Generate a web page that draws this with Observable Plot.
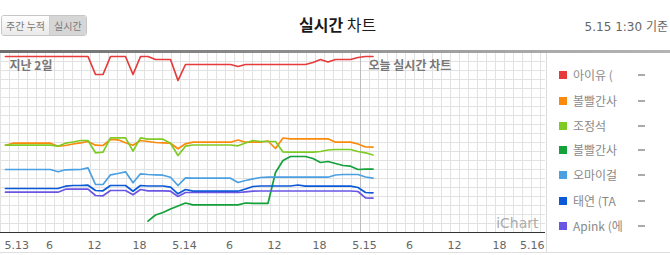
<!DOCTYPE html>
<html><head><meta charset="utf-8">
<script src="https://cdn.jsdelivr.net/npm/d3@7"></script>
<script src="https://cdn.jsdelivr.net/npm/@observablehq/plot@0.6"></script>
<style>
body{margin:0;width:670px;height:255px;overflow:hidden;background:#fff;position:relative;font-family:"DejaVu Sans","Noto Sans CJK KR",sans-serif}
#tabs{position:absolute;left:1px;top:15px;height:19px;border:1px solid #c6c6c6;border-radius:3px;overflow:hidden;display:flex;font-family:"Noto Sans CJK KR",sans-serif;font-size:10px;line-height:19px;color:#7a7a7a;white-space:nowrap}
#tabs div{padding:0 4px}
#tabs .t1{width:39px;background:linear-gradient(#fefefe,#e9e9e9);border-right:1px solid #cfcfcf}
#tabs .t2{width:28px;background:#d6d6d6}
#title{position:absolute;left:299px;top:13px;font-family:"Noto Sans CJK KR",sans-serif;font-size:16px;line-height:22px;color:#1a1a1a;white-space:nowrap}
#title b{font-weight:700}
#stamp{position:absolute;right:2px;top:19px;font-size:12px;line-height:16px;color:#666;white-space:nowrap}
#bar{position:absolute;left:0;top:50px;width:670px;height:3px;background:linear-gradient(to right,#6e6e6e,#a9a9a9 80%,#b4b4b4);z-index:3}
#chart{position:absolute;left:0;top:50px}
#legend{position:absolute;left:546px;top:53px;width:124px;height:199px;border-left:1px solid #dcdcdc;background:#fff}
.item{position:absolute;left:12px;height:16px;line-height:16px;font-family:"Noto Sans CJK KR",sans-serif;font-size:12px;color:#8a8a8a;white-space:nowrap}
.sw{position:absolute;left:0;top:4px;width:8px;height:8px}
.lb{position:absolute;left:14px;top:0}
.ds{position:absolute;left:79px;top:7px;width:7px;height:2px;background:#aaa}
#bottomline{position:absolute;left:0;top:252px;width:670px;height:1px;background:#dedede}
</style></head><body>
<div id="tabs"><div class="t1">주간 누적</div><div class="t2">실시간</div></div>
<div id="title"><b>실시간</b> 차트</div>
<div id="stamp">5.15 1:30 기준</div>
<div id="bar"></div>
<div id="chart"></div>
<div id="legend"></div>
<div id="bottomline"></div>
<script>
// hourly readings starting 5.13 00:40 (hours since 5.13 00:00)
const hours = d3.range(50).map(k => k + 40 / 60);

const seriesNames = ["아이유 (", "볼빨간사", "조정석", "볼빨간사", "오마이걸", "태연 (TA", "Apink (에"];
const seriesIds = ["iu", "bol1", "jo", "bol2", "omg", "ty", "apink"];
const seriesColors = ["#e63b3b", "#fb8a0c", "#7dcb24", "#13a13a", "#4aa0e2", "#0b58d8", "#6b55e3"];

// chart position values (0 = top of chart, larger = lower)
const iu = [4,4,4,4,4,4,4,4,4,4,4,4, 22,22, 4,4,4, 22, 4,4, 7,7,7, 28, 12,12,12,12,12,12,12, 14, 12,12,12,12,12,12,12,12,12, 10, 7, 9.5, 7,7,7, 5, 4,4];
const bol1 = [92.7, 90.7,90.7,90.7,90.7,90.7,90.7, 93.7, 93, 91.5, 90.3, 89, 92.7, 93, 87, 87.3, 90.3, 92.7, 88, 89, 90, 90.3, 90.7, 96.3, 91.3, 89.7,89.7,89.7,89.7,89.7,89.7, 87.5, 89.7,89.7,89.7, 88.5, 96, 85.5, 86.3,86.3,86.3,86.3,86.3,86.3, 89.7,89.7,89.7, 91.5, 94.5, 94.7];
const jo = [92.7,92.7,92.7,92.7,92.7,92.7,92.7, 93.7, 90.7, 89.5, 88, 88, 100.3, 99.7, 85.3,85.3,85.3, 98.7, 85.3, 86.7,86.7,86.7, 90.7, 103, 93.7, 92.5,92.5,92.5,92.5,92.5,92.5, 93.3, 90.5, 88, 89,89,89, 99.5, 99.7,99.7,99.7,99.7, 99, 97.5, 97,97,97, 99, 100.3, 102.5];
const bol2 = [null,null,null,null,null,null,null,null,null,null,null,null,null,null,null,null,null,null,null, 168.7, 162.5, 160, 156.5, 153.5, 150.5, 152.3,152.3,152.3,152.3,152.3,152.3,152.3, 150.5, 150.8,150.8,150.8, 120, 108, 104,104,104, 106, 110, 109, 111, 113, 113.7, 117, 116.7,116.7];
const omg = [117,117,117,117,117,117,117, 119.3, 117.3, 117.2, 117, 115.3, 132, 132, 122.3, 121, 119.3, 130.3, 121.3, 122, 122.3, 122.7, 124.7, 133, 125.3, 125.7,125.7,125.7,125.7,125.7,125.7, 130, 128, 126.3, 125, 124.7,124.7,124.7,124.7,124.7,124.7,124.7,124.7,124.7, 122.5, 122,122,122, 124.5, 125.7];
const ty = [136,136,136,136,136,136,136,136, 133.7, 133,133, 132.7, 138, 138.3, 133,133,133, 138.7, 133, 133.5,133.5,133.5, 134.7, 141.3, 137, 138.7,138.7,138.7,138.7,138.7,138.7,138.7, 136.5, 134, 133.5,133.5,133.5,133.5,133.5, 132.5, 133.7,133.7,133.7,133.7,133.7,133.7,133.7, 135, 140, 140.3];
const apink = [139.7,139.7,139.7,139.7,139.7,139.7,139.7,139.7, 136.7,136.7,136.7,136.7, 143, 143.3, 138,138,138, 142.3, 137, 138.3,138.3,138.3, 138.7, 144, 140,140,140,140,140,140,140,140, 139.3, 138.7, 138.5,138.5,138.5,138.5,138.5,138.5,138.5,138.5,138.5,138.5,138.5,138.5,138.5, 139, 145.3, 145.7];

const tickHours = [0, 6, 12, 18, 24, 30, 36, 42, 48, 54, 60, 66, 72];
const tickLabels = ["5.13", "6", "12", "18", "5.14", "6", "12", "18", "5.15", "6", "12", "18", "5.16"];
const todayStart = 48;

const valuesById = {iu, bol1, jo, bol2, omg, ty, apink};
const rows = [];
seriesIds.forEach(id => {
  valuesById[id].forEach((v, i) => { if (v != null) rows.push({id, t: hours[i], v}); });
});
const labelOf = h => tickLabels[tickHours.indexOf(h)];
const korean = '"Noto Sans CJK KR", sans-serif';
const axisOpts = {tickSize: 0, tickPadding: 9, dx: 4, tickFormat: labelOf, fontSize: 11, fill: "#666", label: null};

const chart = Plot.plot({
  width: 546, height: 204,
  marginTop: 2, marginBottom: 22, marginLeft: 0, marginRight: 1,
  x: {domain: [0, 72], range: [0, 540], axis: null, label: null},
  y: {domain: [0, 180], reverse: true, axis: null, label: null},
  color: {domain: seriesIds, range: seriesColors},
  style: {background: "transparent", fontFamily: '"DejaVu Sans", sans-serif', overflow: "visible"},
  marks: [
    Plot.ruleX(d3.range(0, 72.01, 1.2), {stroke: "#e2e2e2", strokeWidth: 1}),
    Plot.ruleY(d3.range(9, 180, 9), {stroke: "#e2e2e2", strokeWidth: 1}),
    Plot.ruleX([todayStart], {stroke: "#bdbdbd", strokeWidth: 1}),
    Plot.ruleY([180], {stroke: "#333", strokeWidth: 1.2}),
    Plot.text(["지난 2일"], {frameAnchor: "top-left", dx: 9, dy: 9, lineAnchor: "top", text: d => d, fontSize: 12, fontWeight: "bold", fill: "#777", fontFamily: korean}),
    Plot.text([todayStart], {x: d => d, frameAnchor: "top", dx: 8, dy: 9, lineAnchor: "top", textAnchor: "start", text: () => "오늘 실시간 차트", fontSize: 12, fontWeight: "bold", fill: "#777", fontFamily: korean}),
    Plot.text(["iChart"], {frameAnchor: "bottom-right", dx: -7, dy: -5, lineAnchor: "bottom", text: d => d, fontSize: 14, fill: "#ababab", fontFamily: '"DejaVu Sans", sans-serif'}),
    Plot.line(rows, {x: "t", y: "v", z: "id", stroke: "id", strokeWidth: 1.7, strokeLinejoin: "round"}),
    Plot.axisX(tickHours.slice(1, -1), {...axisOpts}),
    Plot.axisX([tickHours[0]], {...axisOpts, textAnchor: "start"}),
    Plot.axisX([tickHours[tickHours.length - 1]], {...axisOpts, textAnchor: "end"})
  ]
});
document.getElementById("chart").append(chart);

const legend = document.getElementById("legend");
const itemTops = [14, 40, 65, 89, 114, 140, 165];
seriesNames.forEach((name, i) => {
  const it = document.createElement("div");
  it.className = "item";
  it.style.top = itemTops[i] + "px";
  it.innerHTML = `<span class="sw" style="background:${seriesColors[i]}"></span><span class="lb"></span><span class="ds"></span>`;
  it.querySelector(".lb").textContent = name;
  legend.append(it);
});
</script>
</body></html>
